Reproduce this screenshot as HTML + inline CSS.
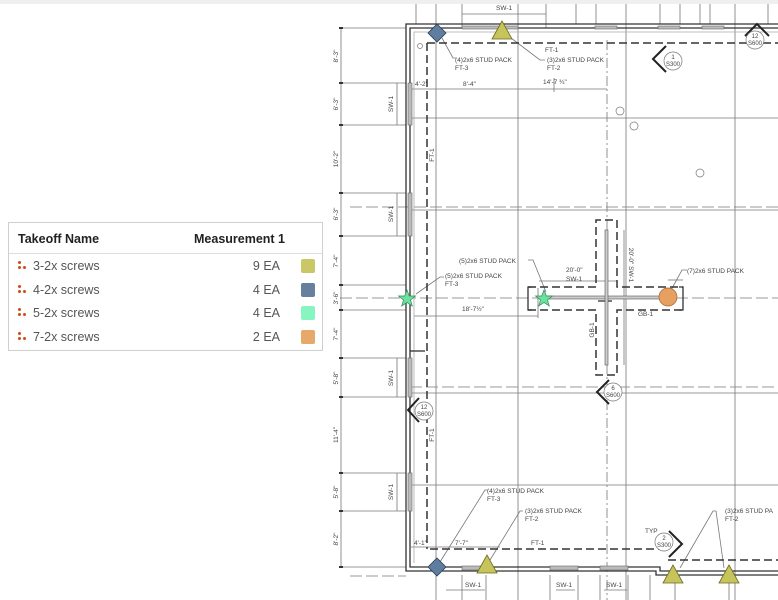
<!DOCTYPE html>
<html><head><style>
html,body{margin:0;padding:0;background:#fff;}
body{width:778px;height:600px;overflow:hidden;position:relative;font-family:"Liberation Sans",sans-serif;}
.leg{position:absolute;left:8px;top:222px;width:315px;height:129px;border:1.5px solid #cfcfcf;background:#fff;box-sizing:border-box;}
.hd{height:30px;border-bottom:1.5px solid #ddd;font-weight:bold;font-size:12.5px;color:#222;position:relative;}
.hd span{position:absolute;top:9px;}
.row{position:relative;height:23.5px;font-size:12.5px;color:#555;}
.row .n{position:absolute;left:24px;top:5px;}
.row .q{position:absolute;right:42px;top:5px;}
.row .s{position:absolute;right:7px;top:5px;width:14px;height:14px;border-radius:2px;}
.dots{position:absolute;left:9px;top:7px;width:10px;height:10px;}
.dots i{position:absolute;width:3px;height:3px;border-radius:50%;background:#d24a1a;}
</style></head><body>
<svg width="778" height="600" style="position:absolute;left:0;top:0" font-family="Liberation Sans, sans-serif">
<rect x="0" y="0" width="778" height="4" fill="#efefef"/>
<g stroke="#777" stroke-width="0.8" fill="none">
<line x1="436" y1="4" x2="436" y2="600"/>
<line x1="462" y1="4" x2="462" y2="28"/>
<line x1="518" y1="4" x2="518" y2="600"/>
<line x1="546" y1="4" x2="546" y2="28"/>
<line x1="626" y1="4" x2="626" y2="600"/>
<line x1="735" y1="4" x2="735" y2="600"/>
<line x1="607" y1="40" x2="607" y2="600" stroke-dasharray="10 3 2 3"/>
<line x1="416" y1="4" x2="416" y2="24"/>
<line x1="576" y1="4" x2="576" y2="24"/><line x1="596" y1="4" x2="596" y2="24"/>
<line x1="660" y1="4" x2="660" y2="24"/><line x1="680" y1="4" x2="680" y2="24"/>
<line x1="700" y1="4" x2="700" y2="24"/><line x1="710" y1="4" x2="710" y2="24"/>
<line x1="768" y1="4" x2="768" y2="24"/>
<line x1="462" y1="575" x2="462" y2="600"/><line x1="486" y1="575" x2="486" y2="600"/>
<line x1="550" y1="575" x2="550" y2="600"/><line x1="578" y1="575" x2="578" y2="600"/>
<line x1="600" y1="575" x2="600" y2="600"/><line x1="628" y1="575" x2="628" y2="600"/>
<line x1="650" y1="575" x2="650" y2="600"/><line x1="675" y1="580" x2="675" y2="600"/>
<line x1="729" y1="580" x2="729" y2="600"/>
<line x1="410" y1="118" x2="778" y2="118"/>
<line x1="350" y1="207" x2="778" y2="207" stroke-dasharray="12 4"/>
<line x1="410" y1="210" x2="778" y2="210"/>
<line x1="340" y1="298" x2="778" y2="298" stroke-dasharray="12 4"/>
<line x1="410" y1="387" x2="778" y2="387" stroke-dasharray="12 4"/>
<line x1="410" y1="393" x2="778" y2="393"/>
<line x1="410" y1="485" x2="778" y2="485"/>
<line x1="350" y1="576" x2="406" y2="576" stroke-dasharray="12 4"/>
<line x1="341" y1="28" x2="341" y2="567"/>
<g>
<line x1="341" y1="28" x2="406" y2="28"/><line x1="341" y1="83" x2="406" y2="83"/>
<line x1="341" y1="125" x2="406" y2="125"/><line x1="341" y1="193" x2="406" y2="193"/>
<line x1="341" y1="236" x2="406" y2="236"/><line x1="341" y1="285" x2="406" y2="285"/>
<line x1="341" y1="310" x2="406" y2="310"/><line x1="341" y1="358" x2="406" y2="358"/>
<line x1="341" y1="397" x2="406" y2="397"/><line x1="341" y1="473" x2="406" y2="473"/>
<line x1="341" y1="511" x2="406" y2="511"/><line x1="341" y1="567" x2="406" y2="567"/>
</g>
<line x1="397" y1="83" x2="397" y2="125"/><line x1="397" y1="193" x2="397" y2="236"/>
<line x1="397" y1="358" x2="397" y2="397"/><line x1="397" y1="473" x2="397" y2="511"/>
<line x1="462" y1="14" x2="546" y2="14"/>
<line x1="412" y1="89" x2="607" y2="89"/>
<line x1="554" y1="78" x2="554" y2="92"/>
<line x1="414" y1="316" x2="538" y2="316"/>
<line x1="538" y1="288" x2="538" y2="318"/>
<line x1="539" y1="281" x2="617" y2="281"/>
<line x1="624" y1="230" x2="624" y2="365"/>
<line x1="668" y1="280" x2="683" y2="280"/>
<line x1="411" y1="547" x2="500" y2="547"/>
<line x1="446" y1="590" x2="485" y2="590"/><line x1="556" y1="590" x2="575" y2="590"/><line x1="604" y1="590" x2="627" y2="590"/>
<path d="M442 38 L453 58 L456 58"/>
<path d="M511 38 L540 60 L545 60"/>
<path d="M416 294 L440 277 L444 277"/>
<path d="M546 292 L533 260 L528 260"/>
<path d="M670 292 L682 270 L687 270"/>
<path d="M440 562 L485 490 L488 490"/>
<path d="M490 560 L520 511 L523 511"/>
<path d="M680 568 L713 511 L716 511 L724 568"/>
</g>
<g fill="#333">
<rect x="339" y="27" width="4" height="2"/><rect x="339" y="82" width="4" height="2"/><rect x="339" y="124" width="4" height="2"/><rect x="339" y="192" width="4" height="2"/><rect x="339" y="235" width="4" height="2"/><rect x="339" y="284" width="4" height="2"/><rect x="339" y="309" width="4" height="2"/><rect x="339" y="357" width="4" height="2"/><rect x="339" y="396" width="4" height="2"/><rect x="339" y="472" width="4" height="2"/><rect x="339" y="510" width="4" height="2"/><rect x="339" y="566" width="4" height="2"/>
</g>
<g stroke="#333" stroke-width="1.3" fill="none">
<path d="M778 24 L406 24 L406 571 L656 571 L656 575 L778 575"/>
<path d="M778 28 L410 28 L410 567 L660 567 L660 571 L778 571"/>
</g>
<g stroke="#aaa" stroke-width="0.8" fill="none">
<path d="M778 32 L414 32 L414 563"/>
</g>
<g fill="#bbb" stroke="#666" stroke-width="0.6">
<rect x="462" y="26" width="56" height="3"/><rect x="595" y="26" width="22" height="3"/><rect x="658" y="26" width="22" height="3"/><rect x="702" y="26" width="22" height="3"/>
<rect x="408" y="83" width="4" height="42"/><rect x="408" y="193" width="4" height="43"/><rect x="408" y="358" width="4" height="39"/><rect x="408" y="473" width="4" height="38"/>
<rect x="462" y="566" width="24" height="4"/><rect x="550" y="566" width="28" height="4"/><rect x="600" y="566" width="28" height="4"/>
</g>
<g stroke="#333" stroke-width="1.5" fill="none" stroke-dasharray="8 4">
<line x1="427" y1="43" x2="778" y2="43"/>
<line x1="427" y1="43" x2="427" y2="549"/>
<line x1="430" y1="549" x2="668" y2="549"/>
<line x1="668" y1="560" x2="778" y2="560"/>
<path d="M528 287 L596 287 L596 220 L617 220 L617 287 L683 287"/>
<path d="M528 310 L596 310 L596 375 L617 375 L617 310 L683 310"/>
</g>
<g stroke="#333" stroke-width="1.3" fill="none">
<path d="M532 287 L528 287 L528 310 L532 310"/><path d="M679 287 L683 287 L683 310 L679 310"/>
<line x1="410" y1="351" x2="425" y2="351"/>
<line x1="598" y1="301" x2="612" y2="301"/>
</g>
<g fill="#ccc" stroke="#555" stroke-width="0.6">
<rect x="545" y="296" width="125" height="3"/><rect x="605" y="230" width="3" height="135"/>
</g>
<g stroke="#222" stroke-width="2" fill="none">
<path d="M666 46 L653 59 L666 72"/>
<path d="M745 36 L757 24 L769 36"/>
<path d="M609 380 L597 392 L609 404"/>
<path d="M419 398 L408 410 L419 422"/>
<path d="M669 531 L682 544 L669 557"/>
</g>
<g stroke="#777" stroke-width="0.7" fill="#fff">
<circle cx="673" cy="61" r="9"/><circle cx="755" cy="40" r="9"/><circle cx="613" cy="392" r="9"/><circle cx="424" cy="411" r="9"/><circle cx="664" cy="542" r="9"/>
<circle cx="620" cy="111" r="4"/><circle cx="634" cy="126" r="4"/><circle cx="700" cy="173" r="4"/><circle cx="420" cy="46" r="2.5"/>
</g>
<g font-size="6" fill="#444" text-anchor="middle">
<text x="673" y="59">1</text><text x="673" y="66">S300</text>
<text x="755" y="38">12</text><text x="755" y="45">S600</text>
<text x="613" y="390">6</text><text x="613" y="397">S600</text>
<text x="424" y="409">12</text><text x="424" y="416">S600</text>
<text x="664" y="540">2</text><text x="664" y="547">S300</text>
</g>
<g font-size="6.5" fill="#444">
<text x="496" y="10">SW-1</text>
<text x="455" y="62">(4)2x6 STUD PACK</text><text x="455" y="70">FT-3</text>
<text x="545" y="52">FT-1</text>
<text x="547" y="62">(3)2x6 STUD PACK</text><text x="547" y="70">FT-2</text>
<text x="415" y="86">4'-2"</text><text x="463" y="86">8'-4"</text><text x="543" y="84">14'-7 ¾"</text>
<text x="459" y="263">(5)2x6 STUD PACK</text>
<text x="445" y="278">(5)2x6 STUD PACK</text><text x="445" y="286">FT-3</text>
<text x="566" y="272">20'-0"</text><text x="566" y="281">SW-1</text>
<text x="687" y="273">(7)2x6 STUD PACK</text>
<text x="462" y="311">18'-7½"</text>
<text x="638" y="316">GB-1</text>
<text x="487" y="493">(4)2x6 STUD PACK</text><text x="487" y="501">FT-3</text>
<text x="525" y="513">(3)2x6 STUD PACK</text><text x="525" y="521">FT-2</text>
<text x="725" y="513">(3)2x6 STUD PA</text><text x="725" y="521">FT-2</text>
<text x="645" y="533">TYP</text>
<text x="531" y="545">FT-1</text>
<text x="414" y="545">4'-1"</text><text x="455" y="545">7'-7"</text>
<text x="465" y="587">SW-1</text><text x="556" y="587">SW-1</text><text x="606" y="587">SW-1</text>
</g>
<g font-size="6.5" fill="#444" text-anchor="middle">
<text transform="translate(338,56) rotate(-90)">8'-3"</text>
<text transform="translate(338,104) rotate(-90)">6'-3"</text>
<text transform="translate(338,159) rotate(-90)">10'-2"</text>
<text transform="translate(338,214) rotate(-90)">6'-3"</text>
<text transform="translate(338,261) rotate(-90)">7'-4"</text>
<text transform="translate(338,298) rotate(-90)">3'-6"</text>
<text transform="translate(338,334) rotate(-90)">7'-4"</text>
<text transform="translate(338,378) rotate(-90)">5'-8"</text>
<text transform="translate(338,435) rotate(-90)">11'-4"</text>
<text transform="translate(338,492) rotate(-90)">5'-8"</text>
<text transform="translate(338,539) rotate(-90)">8'-2"</text>
<text transform="translate(393,104) rotate(-90)">SW-1</text>
<text transform="translate(393,214) rotate(-90)">SW-1</text>
<text transform="translate(393,378) rotate(-90)">SW-1</text>
<text transform="translate(393,492) rotate(-90)">SW-1</text>
<text transform="translate(434,155) rotate(-90)">FT-1</text>
<text transform="translate(434,435) rotate(-90)">FT-1</text>
<text transform="translate(594,330) rotate(-90)">GB-1</text>
<text transform="translate(629,265) rotate(90)">20'-0" SW-1</text>
</g>
<g stroke="#2d3e52" stroke-width="0.8">
<polygon points="437,24 446,33 437,42 428,33" fill="#5f7d9e"/>
<polygon points="437,558 446,567 437,576 428,567" fill="#5f7d9e"/>
</g>
<g stroke="#6b6a20" stroke-width="0.8" fill="#c6c45a">
<polygon points="502,21 512,39 492,39"/>
<polygon points="487,555 497,573 477,573"/>
<polygon points="673,565 683,583 663,583"/>
<polygon points="729,565 739,583 719,583"/>
</g>
<g fill="#6fe09f" stroke="#2e8a5a" stroke-width="0.7">
<polygon points="407,290 409.3,296 415.5,296 410.5,300 412.3,306 407,302.4 401.7,306 403.5,300 398.5,296 404.7,296"/>
<polygon points="544,290 546.3,296 552.5,296 547.5,300 549.3,306 544,302.4 538.7,306 540.5,300 535.5,296 541.7,296"/>
</g>
<circle cx="668" cy="297" r="9" fill="#e6a060" stroke="#a8632a" stroke-width="0.7"/>
</svg>
<div class="leg">
<div class="hd"><span style="left:9px">Takeoff Name</span><span style="left:185px">Measurement 1</span></div>
<div class="row"><div class="dots"><i style="left:0;top:0"></i><i style="left:0;top:5px"></i><i style="left:5px;top:5px"></i></div><span class="n">3-2x screws</span><span class="q">9 EA</span><span class="s" style="background:#c9c766"></span></div>
<div class="row"><div class="dots"><i style="left:0;top:0"></i><i style="left:0;top:5px"></i><i style="left:5px;top:5px"></i></div><span class="n">4-2x screws</span><span class="q">4 EA</span><span class="s" style="background:#66809e"></span></div>
<div class="row"><div class="dots"><i style="left:0;top:0"></i><i style="left:0;top:5px"></i><i style="left:5px;top:5px"></i></div><span class="n">5-2x screws</span><span class="q">4 EA</span><span class="s" style="background:#86f5c0"></span></div>
<div class="row"><div class="dots"><i style="left:0;top:0"></i><i style="left:0;top:5px"></i><i style="left:5px;top:5px"></i></div><span class="n">7-2x screws</span><span class="q">2 EA</span><span class="s" style="background:#e7a96a"></span></div>
</div>
</body></html>
